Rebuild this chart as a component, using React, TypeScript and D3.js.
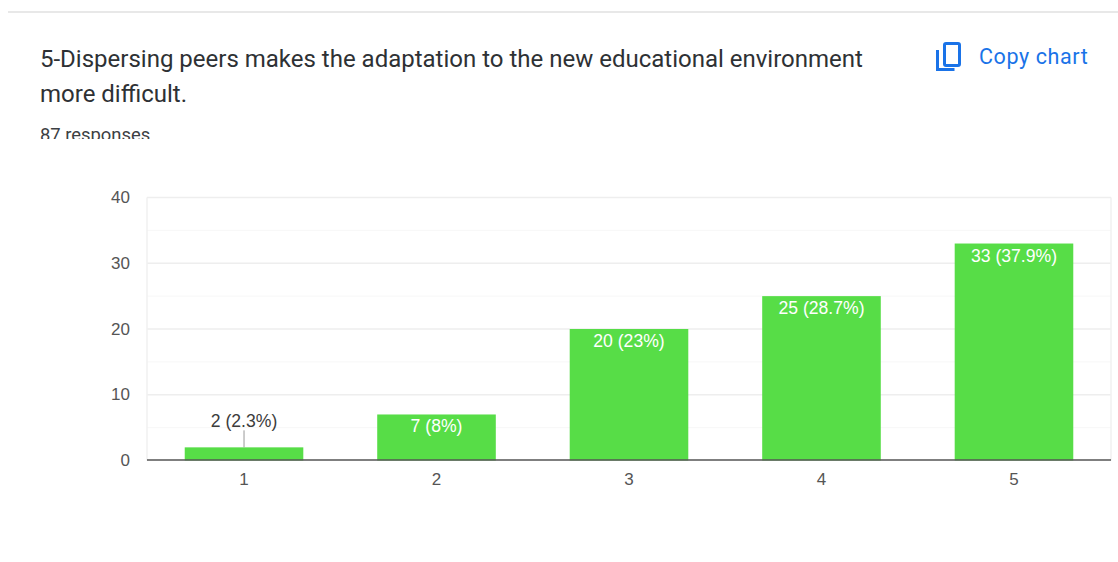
import React from "react";
import * as d3 from "d3";

const categories = ["1", "2", "3", "4", "5"];
const counts = [2, 7, 20, 25, 33];
const valueLabels = ["2 (2.3%)", "7 (8%)", "20 (23%)", "25 (28.7%)", "33 (37.9%)"];
const majorTicks = [0, 10, 20, 30, 40];
const minorTicks = [5, 15, 25, 35];
const titleLines = [
  "5-Dispersing peers makes the adaptation to the new educational environment",
  "more difficult.",
];
const responsesLabel = "87 responses";
const copyLabel = "Copy chart";

const WIDTH = 1118;
const HEIGHT = 562;
const plot = { left: 147, right: 1111, top: 197.5, bottom: 460.5 };
const sans = "'Liberation Sans', Arial, sans-serif";
const roboto = "Roboto, sans-serif";

export default function App() {
  const x = d3
    .scaleBand<string>()
    .domain(categories)
    .range([plot.left, plot.right])
    .paddingInner(0.384)
    .paddingOuter(0.196);
  const y = d3.scaleLinear().domain([0, 40]).range([plot.bottom, plot.top]);

  return (
    <svg
      width={WIDTH}
      height={HEIGHT}
      style={{ position: "fixed", left: 0, top: 0, background: "#fff" }}
    >
      <defs>
        <clipPath id="header-clip">
          <rect x={0} y={0} width={WIDTH} height={139} />
        </clipPath>
      </defs>

      <line x1={8} x2={WIDTH} y1={12} y2={12} stroke="#e0e0e0" strokeWidth={1.5} />

      <g clipPath="url(#header-clip)" fontFamily={roboto} fill="#3c4043">
        {titleLines.map((line, i) => (
          <text key={i} x={40} y={67 + i * 35} fontSize={24} fill="#2e3134">
            {line}
          </text>
        ))}
        <text x={40} y={141} fontSize={18.4}>
          {responsesLabel}
        </text>
      </g>

      {/* Copy icon: two overlapping sheets */}
      <g fill="none" stroke="#1a73e8" strokeWidth={3}>
        <rect x={944.5} y={43.5} width={15} height={22} rx={1.5} />
        <path d="M937.5 50 V69.5 H954.5" />
      </g>
      <text x={979} y={64} fontFamily={roboto} fontSize={21.5} fill="#1a73e8" letterSpacing={0.6}>
        {copyLabel}
      </text>

      {/* Grid */}
      {minorTicks.map((t) => (
        <line key={t} x1={plot.left} x2={plot.right} y1={y(t)} y2={y(t)} stroke="#f7f7f7" />
      ))}
      {majorTicks.filter((t) => t > 0).map((t) => (
        <line key={t} x1={plot.left} x2={plot.right} y1={y(t)} y2={y(t)} stroke="#eeeeee" strokeWidth={1.5} />
      ))}
      <line x1={plot.left} x2={plot.left} y1={plot.top} y2={plot.bottom} stroke="#f0f0f0" strokeWidth={1.5} />
      <line x1={plot.right} x2={plot.right} y1={plot.top} y2={plot.bottom} stroke="#f0f0f0" strokeWidth={1.5} />

      {majorTicks.map((t) => (
        <text key={t} x={130} y={y(t) + 5.5} textAnchor="end" fontFamily={sans} fontSize={17} fill="#555">
          {t}
        </text>
      ))}

      {/* Bars with value labels */}
      {categories.map((c, i) => {
        const bx = x(c)!;
        const cx = bx + x.bandwidth() / 2;
        const top = y(counts[i]);
        const outside = top > plot.bottom - 30;
        return (
          <g key={c}>
            <rect x={bx} y={top} width={x.bandwidth()} height={plot.bottom - top} fill="#57dd47" />
            {outside ? (
              <>
                <line x1={cx} x2={cx} y1={top} y2={top - 17} stroke="#999" />
                <text x={cx} y={top - 20.5} textAnchor="middle" fontFamily={sans} fontSize={17.6} fill="#3c3c3c">
                  {valueLabels[i]}
                </text>
              </>
            ) : (
              <text x={cx} y={top + 18} textAnchor="middle" fontFamily={sans} fontSize={17.6} fill="#fff">
                {valueLabels[i]}
              </text>
            )}
            <text x={cx} y={485} textAnchor="middle" fontFamily={sans} fontSize={17} fill="#555">
              {c}
            </text>
          </g>
        );
      })}

      <line x1={plot.left} x2={plot.right} y1={460} y2={460} stroke="#555" strokeWidth={1.5} />
    </svg>
  );
}
